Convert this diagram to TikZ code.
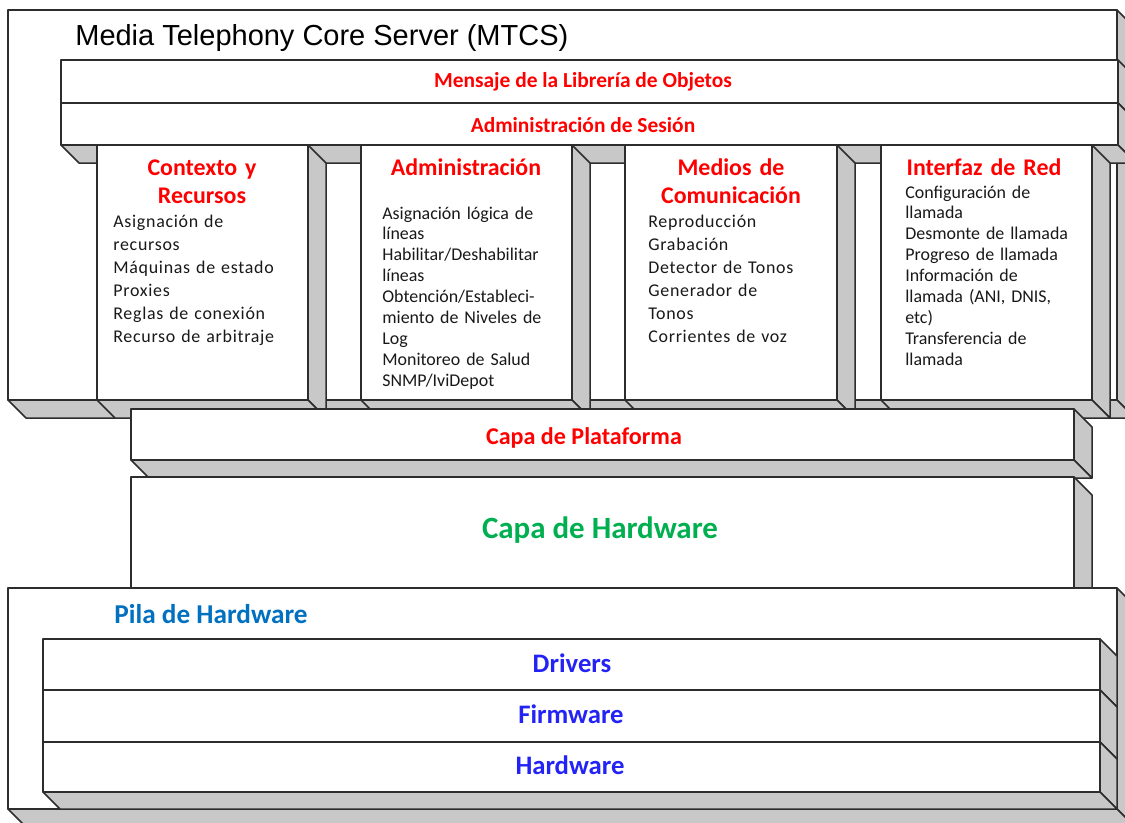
\documentclass[tikz,border=0pt]{standalone}
\usepackage{fontspec}
\setmainfont{Carlito}
\newfontfamily\arialf{Liberation Sans}
\newfontfamily\espaciada[LetterSpace=4]{Carlito}
\usepackage{tikz}
\usetikzlibrary{calc}

\definecolor{rojo}{RGB}{255,0,0}
\definecolor{verde}{RGB}{0,176,80}
\definecolor{azulpila}{RGB}{0,112,192}
\definecolor{azulcapa}{RGB}{35,35,245}
\definecolor{griscara}{RGB}{200,200,200}
\definecolor{trazo}{RGB}{45,45,45}

\tikzset{
	borde/.style={draw=trazo, line width=0.85pt, line join=round},
	cara/.style={borde, fill=griscara},
	frente/.style={borde, fill=white},
	capa/.style={text=rojo, inner sep=0pt, font=\bfseries\fontsize{12.2}{14}\selectfont},
	titulo/.style={text=rojo, inner sep=0pt, text width=3.8cm, align=center, anchor=base,
		font=\bfseries\fontsize{13.6}{16}\selectfont},
	lista/.style={inner sep=0pt, anchor=base west, align=left, text=black!90,
		font=\fontsize{10.2}{11.9}\selectfont},
	listaancha/.style={lista, text width=3.9cm, font=\espaciada\fontsize{10.2}{13.2}\selectfont},
	nivel/.style={text=azulcapa, inner sep=0pt, font=\bfseries\fontsize{15.2}{17}\selectfont}
}

% cubo: (x1,y1) esquina sup. izq., (x2,y2) esquina inf. der., profundidad
\newcommand{\cubo}[5]{%
	\filldraw[cara] (#3,#2) -- ++(#5,#5) -- ({#3+#5},{#4+#5}) -- (#3,#4) -- cycle;
	\filldraw[cara] (#1,#4) -- (#3,#4) -- ({#3+#5},{#4+#5}) -- ({#1+#5},{#4+#5}) -- cycle;
	\filldraw[frente] (#1,#2) rectangle (#3,#4);
}

\begin{document}
\begin{tikzpicture}[x=0.02cm, y=-0.02cm]
	\useasboundingbox (0,0) rectangle (1125,822);
	\clip (0,0) rectangle (1125,822);

	% servidor
	\cubo{8}{10}{1117}{400}{18}
	\node[anchor=west, inner sep=0pt, font=\arialf\fontsize{16.5}{19}\selectfont] (mtcs) at (75,38) {Media Telephony Core Server (MTCS)};

	\cubo{61}{60}{1118}{103}{18}
	\cubo{61}{103}{1118}{145}{18}
	\node[capa] (mensaje) at (583,82) {Mensaje de la Librería de Objetos};
	\node[capa] (sesion) at (583,125) {Administración de Sesión};

	% columnas
	\cubo{97}{145}{308}{400}{18}
	\cubo{361}{145}{572}{400}{18}
	\cubo{625}{145}{837}{400}{18}
	\cubo{881}{145}{1092}{400}{18}

	\node[titulo] (contexto) at (202,175) {Contexto y\\Recursos};
	\node[listaancha] (contextoTxt) at (113,227) {Asignación de\\recursos\\Máquinas de estado\\Proxies\\Reglas de conexión\\Recurso de arbitraje};

	\node[titulo] (admin) at (466,175) {Administración};
	\node[lista, text width=3.5cm] (adminTxt) at (382,219) {Asignación lógica de\\líneas\\Habilitar/Deshabilitar\\líneas\\Obtención/Estableci-\\\makebox[\linewidth][s]{miento de Niveles de}\\Log\\Monitoreo de Salud\\SNMP/IviDepot};

	\node[titulo] (medios) at (731,175) {Medios de\\Comunicación};
	\node[listaancha] (mediosTxt) at (648,227) {Reproducción\\Grabación\\Detector de Tonos\\Generador de\\Tonos\\Corrientes de voz};

	\node[titulo] (interfaz) at (984,175) {Interfaz de Red};
	\node[lista, text width=3.4cm] (interfazTxt) at (905,198) {Configuración de\\llamada\\Desmonte de llamada\\Progreso de llamada\\Información de\\llamada (ANI, DNIS,\\etc)\\Transferencia de\\llamada};

	% capas inferiores
	\cubo{131}{409}{1074}{460}{18}
	\node[capa, font=\bfseries\fontsize{13.7}{15}\selectfont] (plataforma) at (584,438) {Capa de Plataforma};

	\cubo{131}{477}{1074}{588}{18}
	\node[inner sep=0pt, text=verde, font=\bfseries\fontsize{17.6}{20}\selectfont] (hardware) at (600,530) {Capa de Hardware};

	\cubo{8}{588}{1117}{809}{18}
	\node[inner sep=0pt, text=azulpila, font=\bfseries\fontsize{15.5}{18}\selectfont] (pila) at (211,614) {Pila de Hardware};

	\cubo{43}{639}{1100}{690}{17}
	\cubo{43}{690}{1100}{742}{17}
	\cubo{43}{742}{1100}{792}{17}
	\node[nivel] (drivers) at (572,663) {Drivers};
	\node[nivel] (firmware) at (571,714) {Firmware};
	\node[nivel] (hw) at (570,765) {Hardware};
\end{tikzpicture}
\end{document}
